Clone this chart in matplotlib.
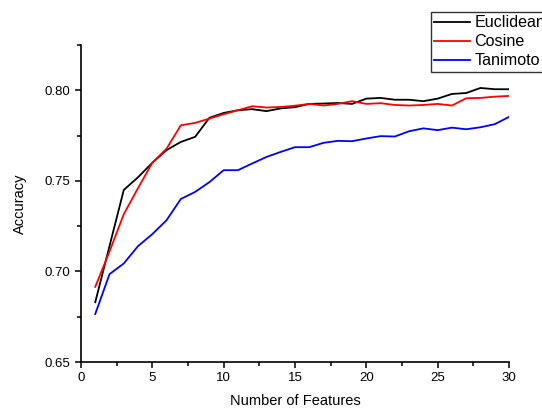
import numpy as np
import matplotlib.pyplot as plt
from matplotlib.ticker import MultipleLocator

plt.rcParams['font.family'] = ['Liberation Sans', 'DejaVu Sans']

features = list(range(1, 31))
euclidean = [0.683, 0.714, 0.745, 0.752, 0.760, 0.767, 0.7715, 0.7743, 0.7848, 0.7875,
             0.789, 0.7896, 0.7885, 0.790, 0.7907, 0.7925, 0.7927, 0.793, 0.7925, 0.7954,
             0.7958, 0.7948, 0.7948, 0.794, 0.7954, 0.798, 0.7985, 0.8013, 0.8006, 0.8006]
cosine = [0.6915, 0.711, 0.7316, 0.746, 0.760, 0.7678, 0.7807, 0.782, 0.7844, 0.7868,
          0.789, 0.7912, 0.7905, 0.7908, 0.7915, 0.7925, 0.7916, 0.7925, 0.794, 0.7925,
          0.7929, 0.7919, 0.7916, 0.7919, 0.7925, 0.7916, 0.7956, 0.7958, 0.7965, 0.7969]
tanimoto = [0.6765, 0.6985, 0.7044, 0.714, 0.7206, 0.7283, 0.740, 0.7439, 0.7493, 0.7559,
            0.7559, 0.7596, 0.7632, 0.766, 0.7686, 0.7686, 0.771, 0.7721, 0.7719, 0.7734,
            0.7747, 0.7745, 0.7774, 0.779, 0.778, 0.7794, 0.7785, 0.7796, 0.7813, 0.7853]

fig = plt.figure(figsize=(5.42, 4.09), dpi=100)
ax = fig.add_axes([0.1494, 0.1149, 0.7897, 0.775])

ax.plot(features, euclidean, color='black', lw=1.3, label='Euclidean')
ax.plot(features, cosine, color='red', lw=1.3, label='Cosine')
ax.plot(features, tanimoto, color='blue', lw=1.3, label='Tanimoto')

ax.set_xlim(0, 30)
ax.set_ylim(0.65, 0.825)
ax.xaxis.set_major_locator(MultipleLocator(5))
ax.xaxis.set_minor_locator(MultipleLocator(2.5))
ax.yaxis.set_major_locator(MultipleLocator(0.05))
ax.yaxis.set_minor_locator(MultipleLocator(0.025))
ax.yaxis.set_major_formatter(plt.FormatStrFormatter('%.2f'))
for s in ['top', 'right']:
    ax.spines[s].set_visible(False)
for s in ['left', 'bottom']:
    ax.spines[s].set_linewidth(1.2)
ax.tick_params(which='major', direction='out', length=4, width=1.1, labelsize=9.5)
ax.tick_params(which='minor', direction='out', length=3, width=1.1)

ax.set_xlabel('Number of Features', fontsize=10.5, labelpad=7)
ax.set_ylabel('Accuracy', fontsize=10.5, labelpad=13)

leg = fig.legend(loc='upper left', bbox_to_anchor=(0.7946, 0.9714), fontsize=11.6,
                 frameon=True, fancybox=False, handlelength=2.2, borderaxespad=0,
                 labelspacing=0.25, borderpad=0.22, handletextpad=0.28)
leg.get_frame().set_edgecolor('black')
leg.get_frame().set_linewidth(1.0)

fig.savefig('out.png', dpi=100)
